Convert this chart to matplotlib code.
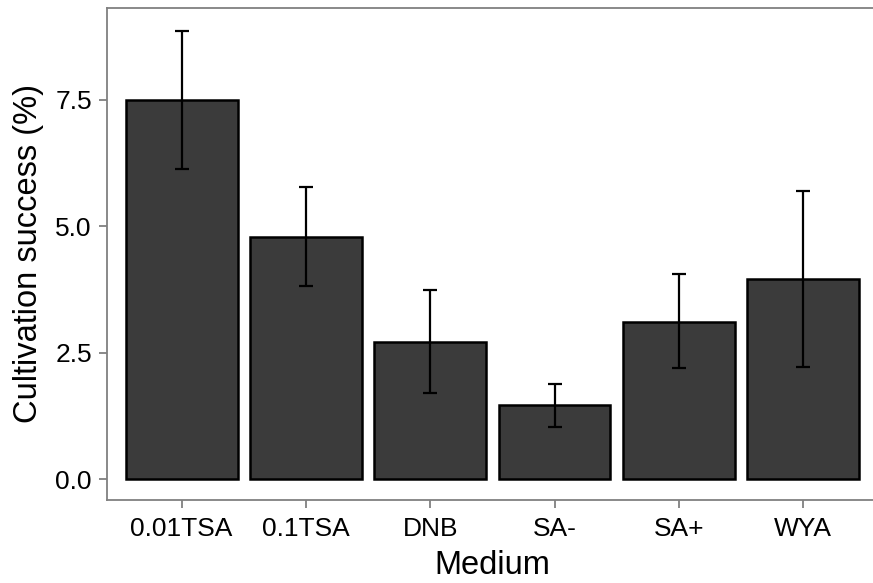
import matplotlib
matplotlib.use('Agg')
import matplotlib.pyplot as plt

media = ['0.01TSA', '0.1TSA', 'DNB', 'SA-', 'SA+', 'WYA']
success = [7.50, 4.78, 2.71, 1.47, 3.11, 3.95]
err_low = [6.12, 3.82, 1.71, 1.04, 2.19, 2.22]
err_high = [8.86, 5.77, 3.74, 1.89, 4.06, 5.69]

plt.rcParams['font.family'] = ['Liberation Sans', 'DejaVu Sans']

fig = plt.figure(figsize=(8.73, 5.83), dpi=100)
ax = fig.add_axes([0.1226, 0.1424, 0.8828, 0.8439])

x = list(range(len(media)))
lower = [s - lo for s, lo in zip(success, err_low)]
upper = [hi - s for s, hi in zip(success, err_high)]

ax.bar(x, success, width=0.9, color='#3b3b3b', edgecolor='black', linewidth=1.8, zorder=2)
ax.errorbar(x, success, yerr=[lower, upper], fmt='none', ecolor='black',
            elinewidth=1.6, capsize=4.8, capthick=1.6, zorder=3)

ax.set_xlim(-0.6, 5.6)
ax.set_ylim(-0.41, 9.31)
ax.set_xticks(x)
ax.set_xticklabels(media)
ax.set_yticks([0, 2.5, 5.0, 7.5])
ax.set_yticklabels(['0.0', '2.5', '5.0', '7.5'])

for s in ax.spines.values():
    s.set_color('#808080')
    s.set_linewidth(1.3)

ax.tick_params(axis='both', colors='#808080', labelcolor='black', labelsize=19,
               length=5.5, width=1.3, direction='out')
ax.tick_params(axis='x', pad=6.5)
ax.tick_params(axis='y', pad=5.5)

ax.set_xlabel('Medium', fontsize=23.5, labelpad=7)
ax.set_ylabel('Cultivation success (%)', fontsize=23.5, labelpad=8)

fig.savefig('out.png', dpi=100)
